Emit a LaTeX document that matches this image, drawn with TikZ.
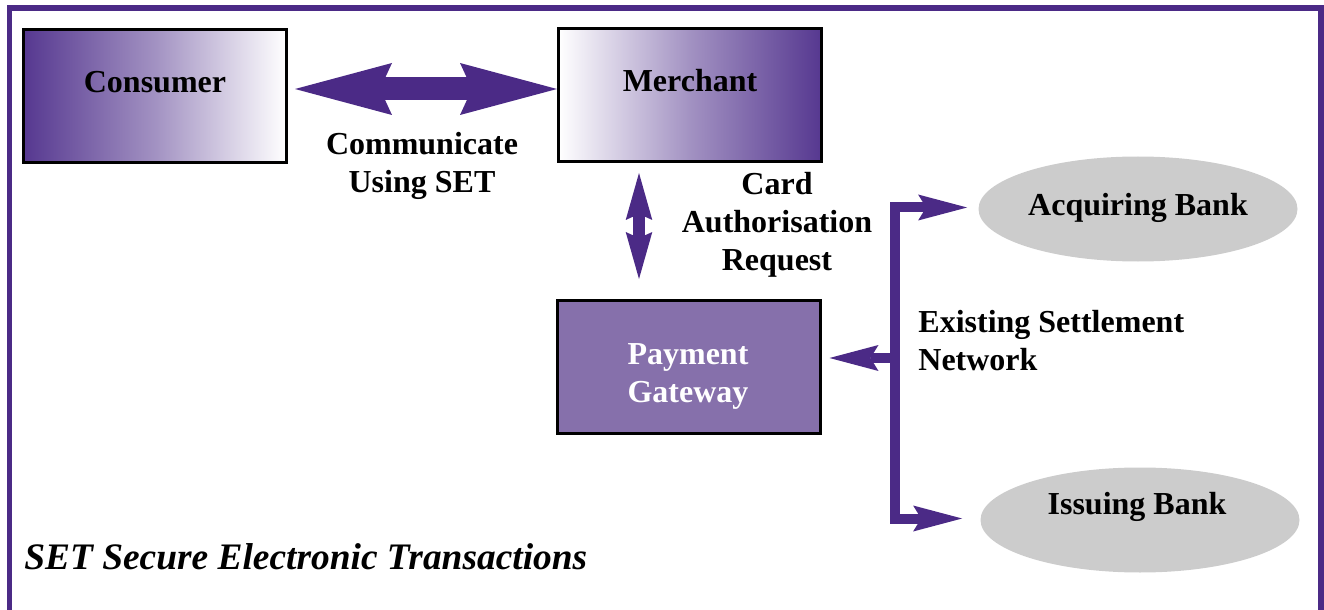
\documentclass[tikz,border=0pt]{standalone}
\usepackage{fontspec}
\setmainfont{Liberation Serif}
\usetikzlibrary{arrows.meta,shapes.geometric}
\definecolor{setpurple}{HTML}{4B2A86}
\definecolor{gatefill}{HTML}{8670AB}
\definecolor{gradedark}{HTML}{563890}
\definecolor{bankgrey}{HTML}{CCCCCC}

\begin{document}
\begin{tikzpicture}[x=0.5pt,y=-0.5pt,
  party/.style={draw=black, line width=1.5pt, minimum width=131.5pt,
    minimum height=66.5pt, inner sep=0pt},
  lbl/.style={font=\fontsize{16}{19}\selectfont\bfseries, align=center, inner sep=0pt},
  bank/.style={ellipse, fill=bankgrey, minimum width=159.5pt,
    minimum height=52.5pt, inner sep=0pt},
  commarrow/.style={setpurple, line width=11.5pt, {Stealth[length=48.5pt,width=26pt,inset=6pt,line width=0pt]}-{Stealth[length=48.5pt,width=26pt,inset=6pt,line width=0pt]}},
  autharrow/.style={setpurple, line width=6pt, {Stealth[length=23.5pt,width=13.3pt,inset=3pt,line width=0pt]}-{Stealth[length=23.5pt,width=13.3pt,inset=3pt,line width=0pt]}},
  settle/.style={setpurple, line width=5pt, line join=miter},
  frame/.style={setpurple, line width=2.75pt}
]
\useasboundingbox (0,0) rectangle (1324,610);

% outer frame (open at the bottom)
\draw[frame] (9.5,620) -- (9.5,8) -- (1321,8) -- (1321,620);

% the parties
\node[party, left color=gradedark, right color=white, middle color=gradedark!55] (consumer) at (155,96) {};
\node[party, left color=white, right color=gradedark, middle color=gradedark!55] (merchant) at (690,95) {};
\node[party, fill=gatefill] (gateway) at (688.5,367) {};
\node[bank] (acq) at (1138,209) {};
\node[bank] (iss) at (1140,520) {};

\node[lbl] (consumerlbl) at (155,82) {Consumer};
\node[lbl] (merchantlbl) at (690,81) {Merchant};
\node[lbl, text=white] (gatewaylbl) at (688,376) {Payment\\Gateway};
\node[lbl] (acqlbl) at (1138,208) {Acquiring Bank};
\node[lbl] (isslbl) at (1137,507) {Issuing Bank};

% connector labels
\node[lbl] (commlbl) at (422,166) {Communicate\\Using SET};
\node[lbl] (cardlbl) at (777,225) {Card\\Authorisation\\Request};
\node[lbl, align=left, anchor=west] (settlelbl) at (918,341) {Existing Settlement\\Network};

% consumer <-> merchant
\draw[commarrow] ([xshift=3.5pt,yshift=3.5pt]consumer.east) -- ([yshift=3pt]merchant.west);

% merchant <-> gateway
\draw[autharrow] ([xshift=-25.5pt,yshift=-5pt]merchant.south) -- ([xshift=-24.75pt,yshift=10pt]gateway.north);

% settlement network bracket
\coordinate (jx) at (895,358);
\coordinate (gw) at ([xshift=4pt]gateway.east);
\coordinate (acqtip) at ([xshift=-5.5pt,yshift=0.75pt]acq.west);
\coordinate (isstip) at ([xshift=-9pt,yshift=0.75pt]iss.west);
\draw[settle, {Stealth[length=24.5pt,width=13pt,inset=4pt,line width=0pt]}-{Stealth[length=24.5pt,width=13pt,inset=4pt,line width=0pt]}]
  (acqtip) -- (jx |- acqtip) -- (jx |- isstip) -- (isstip);
\draw[settle, -{Stealth[length=24.5pt,width=13pt,inset=4pt,line width=0pt]}] (jx) -- (gw |- jx);

% caption
\node[font=\fontsize{18.7}{22}\selectfont\bfseries\itshape, anchor=west, inner sep=0pt] (title) at (24,557) {SET Secure Electronic Transactions};
\end{tikzpicture}
\end{document}
